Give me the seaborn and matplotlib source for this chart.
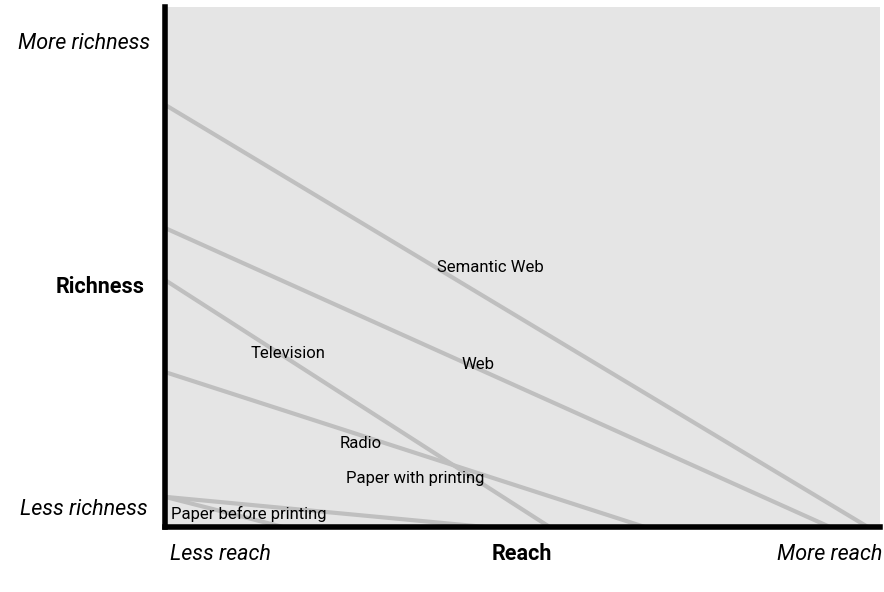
import pandas as pd
import matplotlib
matplotlib.use("Agg")
import matplotlib.pyplot as plt
import seaborn as sns

# Each medium is a straight line from the richness axis to the reach axis
media = ["Semantic Web", "Web", "Television", "Radio", "Paper with printing", "Paper before printing"]
richness_start = [81.2, 57.5, 47.5, 29.8, 5.8, 5.8]
reach_end = [98.3, 93.0, 53.8, 67.1, 44.8, 16.5]

# label positions (data units)
label_x = [45.5, 43.8, 17.2, 27.4, 35.0, 11.7]
label_y = [49.9, 31.3, 33.3, 16.0, 9.4, 2.5]

rows = []
for m, r, e in zip(media, richness_start, reach_end):
    rows.append({"medium": m, "reach": 0, "richness": r})
    rows.append({"medium": m, "reach": e, "richness": 0})
df = pd.DataFrame(rows)

sns.set_style("white")
font = ["Liberation Sans Narrow", "Roboto", "DejaVu Sans"]
plt.rcParams["font.family"] = font

fig = plt.figure(figsize=(8.84, 5.92), dpi=100)
ax = fig.add_axes([165 / 884, 65 / 592, 715 / 884, 520 / 592])
ax.set_facecolor("#e5e5e5")

sns.lineplot(data=df, x="reach", y="richness", hue="medium",
             palette=["#bfbfbf"] * len(media), linewidth=3, legend=False,
             estimator=None, sort=False, ax=ax)

for m, lx, ly in zip(media, label_x, label_y):
    ax.text(lx, ly, m, ha="center", va="center", fontsize=12, color="black")

ax.set_xlim(0, 100)
ax.set_ylim(0, 100)
ax.set_xticks([])
ax.set_yticks([])
ax.set_xlabel("")
ax.set_ylabel("")
for side in ["top", "right"]:
    ax.spines[side].set_visible(False)
for side in ["left", "bottom"]:
    ax.spines[side].set_linewidth(4)
    ax.spines[side].set_color("black")

kw = dict(va="center", fontsize=15.5, color="black", clip_on=False)
ax.text(-2.1, 92.9, "More richness", ha="right", style="italic", **kw)
ax.text(-2.8, 46.2, "Richness", ha="right", weight="bold", **kw)
ax.text(-2.4, 3.4, "Less richness", ha="right", style="italic", **kw)
ax.text(0.7, -5.2, "Less reach", ha="left", style="italic", **kw)
ax.text(49.9, -5.2, "Reach", ha="center", weight="bold", **kw)
ax.text(100.3, -5.2, "More reach", ha="right", style="italic", **kw)

fig.savefig("out.png", dpi=100, facecolor="white")
